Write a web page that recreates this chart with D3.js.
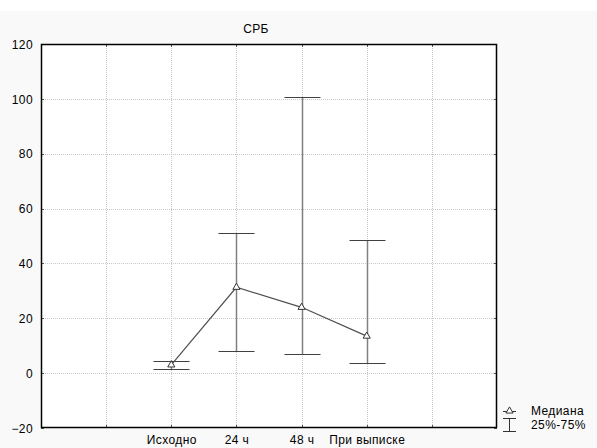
<!DOCTYPE html>
<html><head><meta charset="utf-8">
<script src="https://cdn.jsdelivr.net/npm/d3@7"></script>
<style>body{margin:0;background:#fff}svg{display:block}text{font-family:Arial,"Liberation Sans",sans-serif;font-size:12px;letter-spacing:0.4px;fill:#000}</style>
</head><body><svg id="c" width="597" height="448"></svg>
<script>
const title = "СРБ";
const categories = ["Исходно", "24 ч", "48 ч", "При выписке"];
const catPos = [2, 3, 4, 5];
const median = [3, 31.3, 24, 13.5];
const q25 = [1.5, 8, 6.9, 3.6];
const q75 = [4.6, 51, 100.6, 48.5];
const yTicks = [-20, 0, 20, 40, 60, 80, 100, 120];
const legendLabels = ["Медиана", "25%-75%"];

const svg = d3.select("#c");
svg.append("rect").attr("x",0).attr("y",11).attr("width",597).attr("height",437).attr("fill","#f9f9f9");
const L=41, R=497, T=44, B=428;
const x = d3.scaleLinear().domain([0,7]).range([L,R]);
const y = d3.scaleLinear().domain([-20,120]).range([B,T]);
svg.append("rect").attr("x",L).attr("y",T).attr("width",R-L).attr("height",B-T).attr("fill","#fff");

const g = svg.append("g");
g.selectAll(".vg").data([1,2,3,4,5,6]).join("line")
 .attr("x1",d=>Math.round(x(d))+0.5).attr("x2",d=>Math.round(x(d))+0.5).attr("y1",T).attr("y2",B)
 .attr("stroke","#c8c8c8").attr("stroke-dasharray","1,1");
g.selectAll(".hg").data(yTicks.slice(1,-1)).join("line")
 .attr("y1",d=>Math.round(y(d))+0.5).attr("y2",d=>Math.round(y(d))+0.5).attr("x1",L).attr("x2",R)
 .attr("stroke","#c8c8c8").attr("stroke-dasharray","1,1");

const ya = svg.append("g").attr("transform",`translate(${L},0)`)
 .call(d3.axisLeft(y).tickValues(yTicks).tickSize(0).tickPadding(8).tickFormat(d3.format("d")));
ya.select(".domain").remove();
ya.selectAll("text").style("font-size","12px").style("font-family","Arial").attr("dy","0.35em");
const xa = svg.append("g").attr("transform",`translate(0,${B})`)
 .call(d3.axisBottom(x).tickValues(catPos).tickSize(0).tickPadding(7).tickFormat((d,i)=>categories[i]));
xa.select(".domain").remove();
xa.selectAll("text").style("font-size","12px").style("font-family","Arial");

[1,2,3,4,5,6].forEach(d=>{
  svg.append("line").attr("x1",Math.round(x(d))+0.5).attr("x2",Math.round(x(d))+0.5).attr("y1",T).attr("y2",T+3).attr("stroke","#555");
  svg.append("line").attr("x1",Math.round(x(d))+0.5).attr("x2",Math.round(x(d))+0.5).attr("y1",B).attr("y2",B-3).attr("stroke","#555");
});
yTicks.forEach(d=>{
  svg.append("line").attr("y1",Math.round(y(d))+0.5).attr("y2",Math.round(y(d))+0.5).attr("x1",R).attr("x2",R-3).attr("stroke","#555");
  svg.append("line").attr("y1",Math.round(y(d))+0.5).attr("y2",Math.round(y(d))+0.5).attr("x1",L).attr("x2",L+3).attr("stroke","#555");
});
svg.append("rect").attr("x",L+0.5).attr("y",T+0.5).attr("width",R-L-1).attr("height",B-T-1)
 .attr("fill","none").attr("stroke","#000").attr("stroke-width",1.5);

const eb = svg.append("g");
catPos.forEach((c,i)=>{
  const cx = Math.round(x(c))+0.5;
  eb.append("line").attr("x1",cx).attr("x2",cx).attr("y1",y(q25[i])).attr("y2",y(q75[i])).attr("stroke","#808080").attr("stroke-width",1.5);
  [q25[i],q75[i]].forEach(v=>{
    eb.append("line").attr("x1",cx-18).attr("x2",cx+18).attr("y1",Math.round(y(v))+0.5).attr("y2",Math.round(y(v))+0.5).attr("stroke","#404040").attr("stroke-width",1.2);
  });
});

const line = d3.line().x((d,i)=>x(catPos[i])).y(d=>y(d));
svg.append("path").datum(median).attr("d",line).attr("fill","none").attr("stroke","#505050").attr("stroke-width",1.2);
const tri = d3.symbol().type(d3.symbolTriangle).size(22);
svg.selectAll(".m").data(median).join("path")
 .attr("d",tri).attr("transform",(d,i)=>`translate(${x(catPos[i])},${y(d)})`)
 .attr("fill","#fff").attr("stroke","#333").attr("stroke-width",1);

svg.append("text").attr("x",256).attr("y",33).attr("text-anchor","middle").text(title);

const lg = svg.append("g");
lg.append("line").attr("x1",503).attr("x2",516).attr("y1",411.5).attr("y2",411.5).attr("stroke","#333");
lg.append("path").attr("d",tri).attr("transform","translate(509.5,411)").attr("fill","#fff").attr("stroke","#333");
lg.append("text").attr("x",531).attr("y",415).text(legendLabels[0]);
lg.append("line").attr("x1",503).attr("x2",516).attr("y1",418.5).attr("y2",418.5).attr("stroke","#333");
lg.append("line").attr("x1",503).attr("x2",516).attr("y1",431.5).attr("y2",431.5).attr("stroke","#333");
lg.append("line").attr("x1",509.5).attr("x2",509.5).attr("y1",418.5).attr("y2",431.5).attr("stroke","#333");
lg.append("text").attr("x",531).attr("y",429).text(legendLabels[1]);
</script></body></html>
